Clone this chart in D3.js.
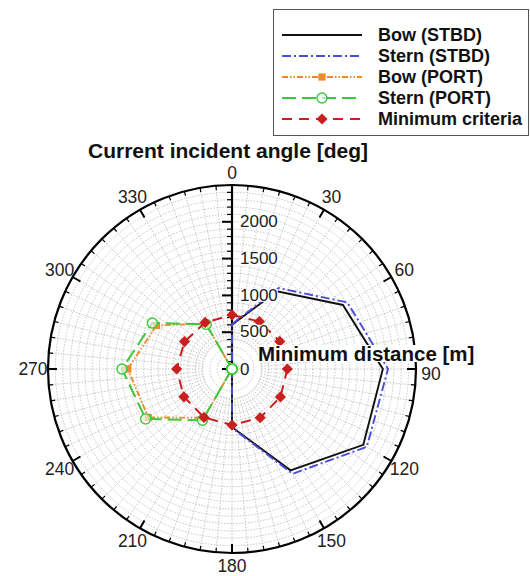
<!DOCTYPE html>
<html>
<head>
<meta charset="utf-8">
<script src="https://cdn.jsdelivr.net/npm/d3@7"></script>
<style>
  html, body { margin: 0; padding: 0; background: #fff; }
  svg { display: block; font-family: Arial, "Liberation Sans", Helvetica, sans-serif; }
</style>
</head>
<body>
<svg id="chart" width="530" height="576"></svg>
<script>
// Current incident angle (deg) for every sample
const angles = [0, 30, 60, 90, 120, 150, 180, 210, 240, 270, 300, 330];

// Minimum distance (m) per series
const bowStbd   = [600, 1220, 1740, 2050, 2060, 1590, 790, 0, 0, 0, 0, 0];
const sternStbd = [610, 1270, 1810, 2120, 2115, 1645, 800, 0, 0, 0, 0, 0];
const bowPort   = [0, 0, 0, 0, 0, 0, 0, 765, 1315, 1415, 1185, 710];
const sternPort = [0, 0, 0, 0, 0, 0, 0, 805, 1355, 1495, 1250, 700];
const minCrit   = [735, 745, 750, 752, 760, 765, 762, 760, 755, 752, 745, 730];

// Axis ticks
const angleTickLabels = [0, 30, 60, 90, 120, 150, 180, 210, 240, 270, 300, 330];
const radialTickLabels = [0, 500, 1000, 1500, 2000];
const radialMax = 2500;

const seriesNames = ["Bow (STBD)", "Stern (STBD)", "Bow (PORT)", "Stern (PORT)", "Minimum criteria"];

const svg = d3.select("#chart");
const cx = 232, cy = 369, R = 184;

const r = d3.scaleLinear().domain([0, radialMax]).range([0, R]);
const rad = d => d * Math.PI / 180;
const px = (deg, v) => cx + r(v) * Math.sin(rad(deg));
const py = (deg, v) => cy - r(v) * Math.cos(rad(deg));

const g = svg.append("g");

// Grid: circles every 100 m, spokes every 5 deg
const gridG = g.append("g").attr("stroke", "#b8b8b8").attr("fill", "none")
  .attr("stroke-width", 0.8).attr("stroke-dasharray", "1.5,1.5");
d3.range(100, radialMax, 100).forEach(v => {
  gridG.append("circle").attr("cx", cx).attr("cy", cy).attr("r", r(v));
});
d3.range(0, 360, 5).forEach(a => {
  if (a === 0) return;
  gridG.append("line")
    .attr("x1", px(a, 400)).attr("y1", py(a, 400))
    .attr("x2", px(a, radialMax)).attr("y2", py(a, radialMax));
});

// Outer ring with angular ticks
g.append("circle").attr("cx", cx).attr("cy", cy).attr("r", R)
  .attr("fill", "none").attr("stroke", "#000").attr("stroke-width", 2.2);
d3.range(0, 360, 5).forEach(a => {
  const major = a % 30 === 0;
  if (a === 0) return;
  const len = major ? 9 : 4.5;
  g.append("line")
    .attr("x1", px(a, radialMax)).attr("y1", py(a, radialMax))
    .attr("x2", cx + (R - len) * Math.sin(rad(a))).attr("y2", cy - (R - len) * Math.cos(rad(a)))
    .attr("stroke", "#000").attr("stroke-width", major ? 2 : 1.2);
});

// Angular labels
angleTickLabels.forEach(a => {
  const lr = R + 15;
  let y = cy - lr * Math.cos(rad(a));
  if (a === 0) y += 3;
  if (a === 90) y += 5;
  if (a === 180) y -= 2;
  g.append("text")
    .attr("x", cx + lr * Math.sin(rad(a)))
    .attr("y", y)
    .attr("text-anchor", "middle").attr("dominant-baseline", "central")
    .attr("font-size", 17.5).attr("fill", "#222").text(a);
});

// Radial axis along 0 deg
g.append("line").attr("x1", cx).attr("y1", cy).attr("x2", cx).attr("y2", cy - R)
  .attr("stroke", "#000").attr("stroke-width", 2.2);
d3.range(0, radialMax, 100).forEach(v => {
  const major = v % 500 === 0;
  g.append("line")
    .attr("x1", cx).attr("y1", py(0, v))
    .attr("x2", cx - (major ? 10 : 5)).attr("y2", py(0, v))
    .attr("stroke", "#000").attr("stroke-width", major ? 2 : 1.2);
});

// Series drawing
const lineGen = d3.lineRadial()
  .angle(d => rad(d.a)).radius(d => r(d.v))
  .curve(d3.curveLinearClosed);

const series = [
  { name: seriesNames[0], values: bowStbd,   color: "#111111", dash: null,              width: 1.9, marker: null },
  { name: seriesNames[1], values: sternStbd, color: "#4b4bdc", dash: "9,3,2,3",         width: 1.9, marker: null },
  { name: seriesNames[2], values: bowPort,   color: "#f08a24", dash: "6,2,1.5,2,1.5,2", width: 1.9, marker: "square" },
  { name: seriesNames[3], values: sternPort, color: "#3cc83c", dash: "14,6",            width: 2,   marker: "circle" },
  { name: seriesNames[4], values: minCrit,   color: "#c8201e", dash: "10,7",            width: 2,   marker: "diamond" }
];

function drawMarker(sel, kind, color, x, y) {
  if (kind === "square") {
    sel.append("path").attr("transform", `translate(${x},${y})`)
      .attr("d", d3.symbol().type(d3.symbolSquare).size(52)())
      .attr("fill", color).attr("stroke", "none");
  } else if (kind === "circle") {
    sel.append("circle").attr("cx", x).attr("cy", y).attr("r", 5)
      .attr("fill", "#fff").attr("fill-opacity", 0.6).attr("stroke", color).attr("stroke-width", 1.4);
  } else if (kind === "diamond") {
    sel.append("path").attr("transform", `translate(${x},${y})`)
      .attr("d", d3.symbol().type(d3.symbolDiamond2).size(80)())
      .attr("fill", color).attr("stroke", "none");
  }
}

const dataG = g.append("g").attr("transform", `translate(${cx},${cy})`);
series.forEach(s => {
  const pts = angles.map((a, i) => ({ a, v: s.values[i] }));
  dataG.append("path").attr("d", lineGen(pts))
    .attr("fill", "none").attr("stroke", s.color).attr("stroke-width", s.width)
    .attr("stroke-dasharray", s.dash);
  if (s.marker) {
    pts.forEach(p => drawMarker(dataG, s.marker, s.color,
      r(p.v) * Math.sin(rad(p.a)), -r(p.v) * Math.cos(rad(p.a))));
  }
});

// Radial tick labels with white backing
radialTickLabels.forEach(v => {
  const t = g.append("text")
    .attr("x", cx + 8).attr("y", py(0, v) - (v === 500 ? 1 : 0))
    .attr("dominant-baseline", "central")
    .attr("font-size", 17).attr("fill", "#222").text(v);
  const bb = t.node().getBBox();
  if (v > 0) {
    g.insert("rect", () => t.node())
      .attr("x", bb.x).attr("y", bb.y + 3).attr("width", bb.width).attr("height", bb.height - 6)
      .attr("fill", "#fff");
  }
});

// Axis titles
const rt = g.append("text").attr("x", 258).attr("y", 353.5)
  .attr("dominant-baseline", "central")
  .attr("font-size", 20.5).attr("font-weight", "bold").attr("fill", "#111")
  .text("Minimum distance [m]");
const rbb = rt.node().getBBox();
g.insert("rect", () => rt.node())
  .attr("x", rbb.x).attr("y", rbb.y + 3).attr("width", rbb.width).attr("height", rbb.height - 6)
  .attr("fill", "#fff");

svg.append("text").attr("x", 228).attr("y", 150)
  .attr("text-anchor", "middle").attr("dominant-baseline", "central")
  .attr("font-size", 21).attr("font-weight", "bold").attr("fill", "#111")
  .text("Current incident angle [deg]");

// Legend
const lg = svg.append("g");
lg.append("rect").attr("x", 273.5).attr("y", 9.5).attr("width", 255).attr("height", 126)
  .attr("fill", "#fff").attr("stroke", "#555").attr("stroke-width", 1);
const rowY = [35, 56, 77, 98, 119];
series.forEach((s, i) => {
  const y = rowY[i];
  lg.append("line").attr("x1", 282).attr("x2", 362).attr("y1", y).attr("y2", y)
    .attr("stroke", s.color).attr("stroke-width", s.width).attr("stroke-dasharray", s.dash);
  if (s.marker) drawMarker(lg, s.marker, s.color, 322, y);
  lg.append("text").attr("x", 378).attr("y", y)
    .attr("dominant-baseline", "central")
    .attr("font-size", 18).attr("font-weight", "bold").attr("fill", "#111")
    .text(s.name);
});
</script>
</body>
</html>
